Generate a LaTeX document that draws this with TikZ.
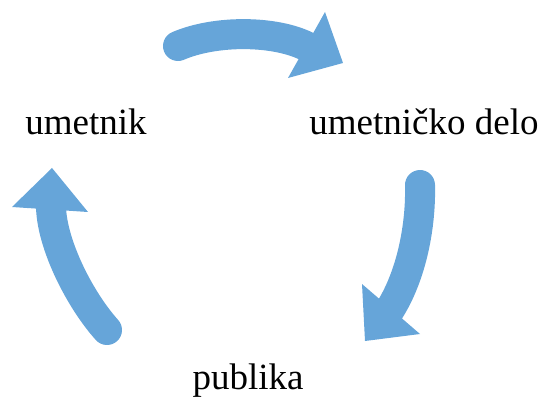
\documentclass[tikz,border=0pt]{standalone}
\usepackage{fontspec}
\setmainfont{Liberation Serif}
\newfontfamily\labelfont{Liberation Serif}
\definecolor{arrowblue}{RGB}{102,165,217}
\begin{document}
\begin{tikzpicture}[x=1pt,y=-1pt,
  stem/.style={draw=arrowblue,line width=30pt,line cap=round},
  head/.style={fill=arrowblue,draw=none},
  label/.style={font=\labelfont\fontsize{37}{43}\selectfont,anchor=base,inner sep=0pt}]
\useasboundingbox (0,0) rectangle (543,403);
% labels
\node[label] (artist) at (86,135) {umetnik};
\node[label] (work) at (424,135) {umetničko delo};
\node[label] (public) at (248,389) {publika};
% arrow 1: artist -> work
\coordinate (a1s) at (178,46);
\coordinate (a1e) at (308,47);
\draw[stem] (a1s) .. controls (215,30) and (275,30) .. (a1e);
\fill[head] (325,12) -- (343,63) -- (288,78) -- cycle;
% arrow 2: work -> public
\coordinate (a2s) at (420,185);
\coordinate (a2e) at (389,311);
\draw[stem] (a2s) .. controls (421,225) and (412,275) .. (a2e);
\fill[head] (362,284) -- (420,334) -- (365,341) -- cycle;
% arrow 3: public -> artist
\coordinate (a3s) at (107,330);
\coordinate (a3e) at (51,207);
\draw[stem] (a3s) .. controls (80,300) and (52,245) .. (a3e);
\fill[head] (12,207) -- (52,168) -- (88,212) -- cycle;
\end{tikzpicture}
\end{document}
